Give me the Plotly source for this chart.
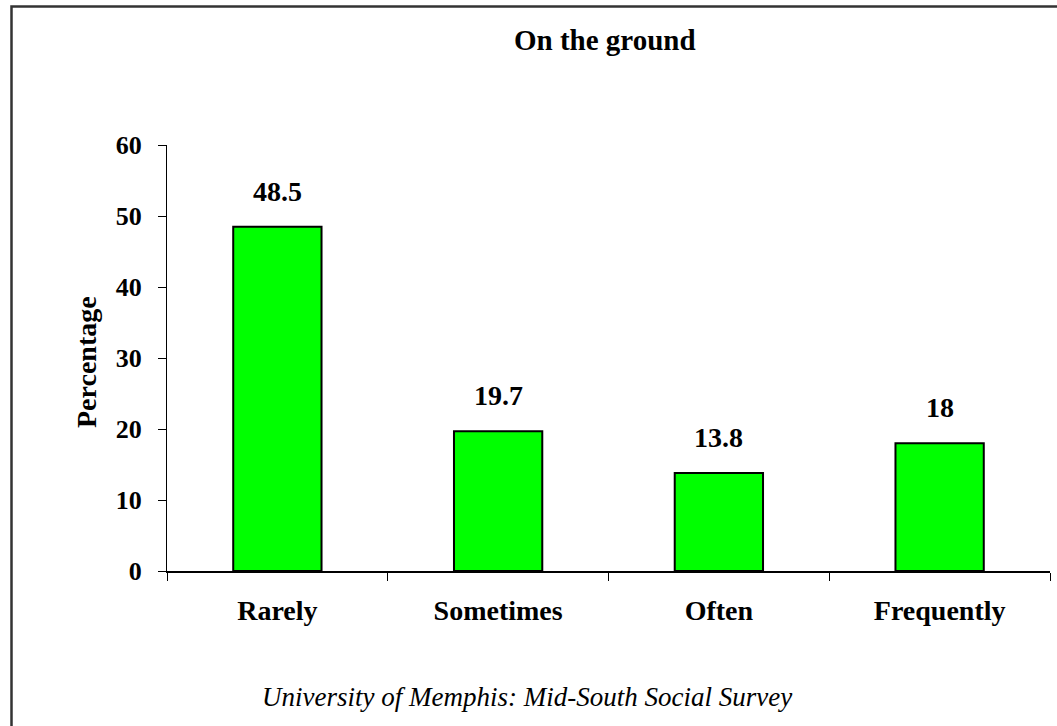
import plotly.graph_objects as go

categories = ["Rarely", "Sometimes", "Often", "Frequently"]
values = [48.5, 19.7, 13.8, 18]
value_labels = ["48.5", "19.7", "13.8", "18"]
y_ticks = [0, 10, 20, 30, 40, 50, 60]

W, H = 1057, 726
# plot-area edges in screenshot pixels (body margin removed via post_script)
PX0, PX1, PY0, PY1 = 167, 1050, 145, 571
L, R = PX0, W - PX1
T, B = PY0, H - PY1
pw, ph = PX1 - PX0, PY1 - PY0

def px_x(x):
    return (x - PX0) / pw

def px_y(y):
    return (PY1 - y) / ph

FONT = "Liberation Serif, Times New Roman, serif"

fig = go.Figure()
fig.add_trace(go.Bar(
    x=categories, y=values, width=0.4,
    marker=dict(color="#00FF00", line=dict(color="black", width=2)),
    hoverinfo="x+y",
))

annotations = []
for c, v, t in zip(categories, values, value_labels):
    annotations.append(dict(x=c, y=v, xref="x", yref="y", text=f"<b>{t}</b>",
                            showarrow=False, yanchor="bottom", yshift=18,
                            font=dict(family=FONT, size=28, color="black")))
annotations.append(dict(x=px_x(605), y=px_y(40), xref="paper", yref="paper",
                        text="<b>On the ground</b>", showarrow=False,
                        xanchor="center", yanchor="middle",
                        font=dict(family=FONT, size=29, color="black")))
annotations.append(dict(x=px_x(86), y=px_y(362), xref="paper", yref="paper",
                        text="<b>Percentage</b>", showarrow=False, textangle=-90,
                        xanchor="center", yanchor="middle",
                        font=dict(family=FONT, size=28, color="black")))
annotations.append(dict(x=px_x(527), y=px_y(697), xref="paper", yref="paper",
                        text="<i>University of Memphis: Mid-South Social Survey</i>",
                        showarrow=False, xanchor="center", yanchor="middle",
                        font=dict(family=FONT, size=27, color="black")))

fig.update_layout(
    width=W, height=H,
    margin=dict(l=L, r=R, t=T, b=B, pad=0),
    paper_bgcolor="white", plot_bgcolor="white",
    showlegend=False,
    annotations=annotations,
    shapes=[dict(type="rect", xref="paper", yref="paper",
                 x0=px_x(11.5), x1=px_x(1150), y0=px_y(800), y1=px_y(6.5),
                 line=dict(color="#333333", width=2.5), fillcolor="rgba(0,0,0,0)",
                 layer="below")],
    xaxis=dict(
        range=[-0.5, 3.5], showline=True, linecolor="black", linewidth=1.5,
        ticks="outside", tickson="boundaries", ticklen=8, tickcolor="black",
        tickwidth=1, showgrid=False, zeroline=False,
        tickfont=dict(family=FONT, size=28, color="black"),
        ticklabelstandoff=14,
        tickvals=categories, ticktext=[f"<b>{c}</b>" for c in categories],
    ),
    yaxis=dict(
        range=[0, 60], showline=True, linecolor="black", linewidth=1,
        ticks="outside", ticklen=8, tickcolor="black", tickwidth=1,
        tickvals=y_ticks, ticktext=[f"<b>{t}</b>" for t in y_ticks],
        showgrid=False, zeroline=False,
        tickfont=dict(family=FONT, size=26, color="black"),
        ticklabelstandoff=11,
    ),
)

fig.write_html("out.html", config={"displayModeBar": False},
               post_script="document.body.style.margin='0';document.body.style.overflow='hidden';")
